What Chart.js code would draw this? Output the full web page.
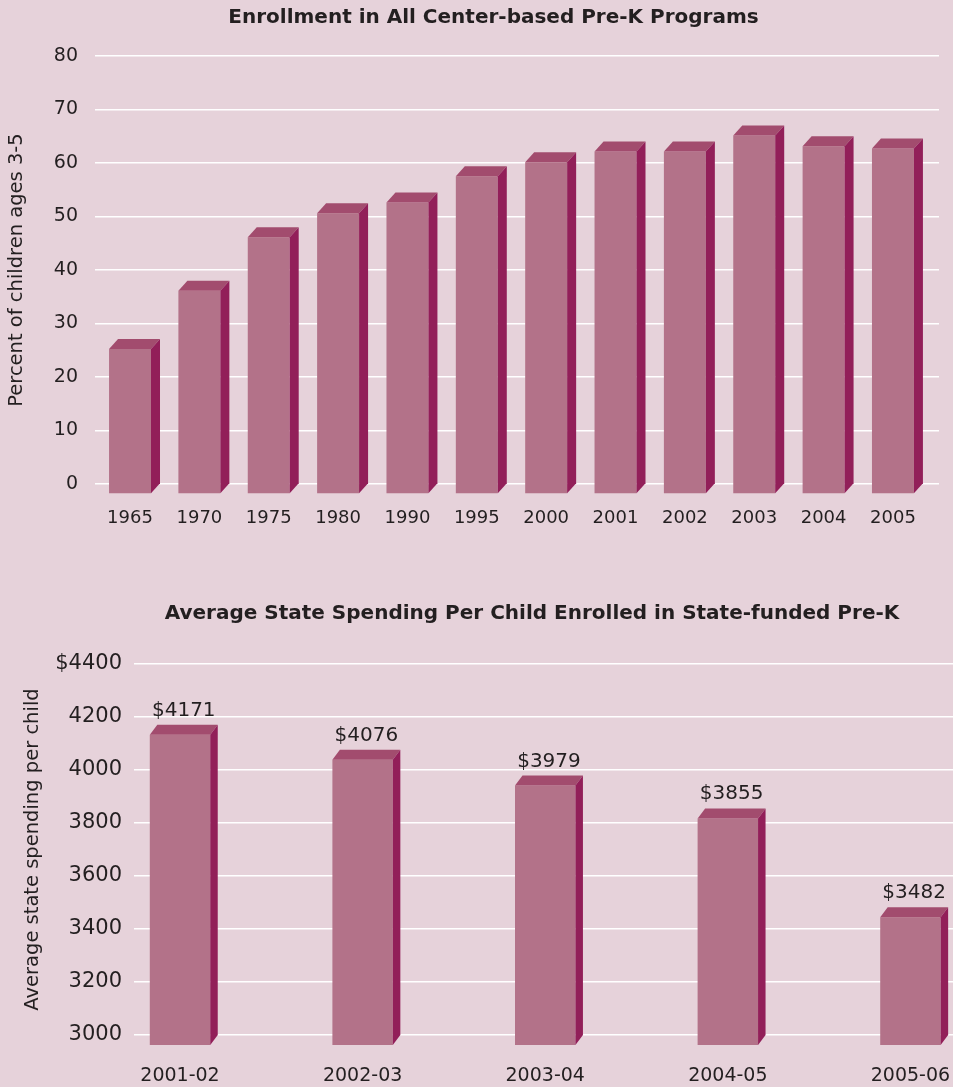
<!DOCTYPE html>
<html lang="en">

<head>
    <meta charset="UTF-8">
    <title>Pre-K enrollment and spending</title>
    <script src="https://cdn.jsdelivr.net/npm/chart.js@4.4.1/dist/chart.umd.min.js"></script>
    <style>
        html, body { margin: 0; padding: 0; background: #e6d2da; overflow: hidden; }
        #page { position: relative; width: 953px; height: 1087px; overflow: hidden; }
        canvas { position: absolute; left: 0; }
        #enrollment { top: 0; }
        #spending { top: 580px; }
    </style>
</head>

<body>
    <div id="page">
        <canvas id="enrollment" width="987" height="545"></canvas>
        <canvas id="spending" width="1064" height="507"></canvas>
    </div>
</body>

<script>
    // chart data
    const enrollmentYears = ["1965", "1970", "1975", "1980", "1990", "1995", "2000", "2001", "2002", "2003", "2004", "2005"];
    const enrollmentValues = [27.1, 38.0, 48.0, 52.5, 54.5, 59.4, 62.0, 64.0, 64.0, 67.0, 65.0, 64.6];
    const enrollmentTicks = ["0", "10", "20", "30", "40", "50", "60", "70", "80"];

    const spendingYears = ["2001-02", "2002-03", "2003-04", "2004-05", "2005-06"];
    const spendingValues = [4171, 4076, 3979, 3855, 3482];
    const spendingTicks = ["3000", "3200", "3400", "3600", "3800", "4000", "4200", "$4400"];

    const FRONT = "#b37289";
    const TOP = "#a24c6e";
    const SIDE = "#921f59";
    const TEXT = "#231f20";
    const FONT = "'DejaVu Sans', sans-serif";

    Chart.defaults.font.family = FONT;
    Chart.defaults.color = TEXT;

    function fillShape(ctx, color, points) {
        ctx.fillStyle = color;
        ctx.beginPath();
        ctx.moveTo(points[0][0], points[0][1]);
        for (let i = 1; i < points.length; i++) {
            ctx.lineTo(points[i][0], points[i][1]);
        }
        ctx.closePath();
        ctx.fill();
    }

    // draws each bar as a box: back face sits at the value, front face is pushed down-left
    function boxBars(depthX, depthY, withLabels) {
        return {
            id: "boxBars",
            afterDatasetsDraw(chart) {
                const ctx = chart.ctx;
                const floor = chart.chartArea.bottom;
                const values = chart.data.datasets[0].data;
                ctx.save();
                chart.getDatasetMeta(0).data.forEach((bar, i) => {
                    const half = bar.width / 2;
                    const left = bar.x - half;
                    const right = bar.x + half;
                    const top = bar.y;
                    const base = Math.min(bar.base, floor);

                    fillShape(ctx, FRONT, [[left, top + depthY], [right, top + depthY], [right, base + depthY], [left, base + depthY]]);
                    fillShape(ctx, TOP, [[left, top + depthY], [left + depthX, top], [right + depthX, top], [right, top + depthY]]);
                    fillShape(ctx, SIDE, [[right, top + depthY], [right + depthX, top], [right + depthX, base], [right, base + depthY]]);

                    if (withLabels) {
                        const v = values[i].y;
                        ctx.fillStyle = TEXT;
                        ctx.font = "20px " + FONT;
                        ctx.textAlign = "center";
                        ctx.textBaseline = "alphabetic";
                        ctx.fillText("$" + v, bar.x + depthX / 2, top - 9);
                    }
                });
                ctx.restore();
            }
        };
    }

    function indexTicks(labels) {
        return function (scale) {
            scale.ticks = labels.map((_, i) => ({ value: i }));
        };
    }

    // top chart
    new Chart(document.getElementById("enrollment"), {
        type: "bar",
        data: {
            datasets: [{
                data: enrollmentValues.map((v, i) => ({ x: i, y: v })),
                backgroundColor: "rgba(0,0,0,0)",
                categoryPercentage: 0.605,
                barPercentage: 1
            }]
        },
        options: {
            responsive: false,
            animation: false,
            layout: { padding: 0 },
            plugins: {
                legend: { display: false },
                tooltip: { enabled: false },
                title: {
                    display: true,
                    text: "Enrollment in All Center-based Pre-K Programs",
                    color: TEXT,
                    font: { size: 20, weight: "bold" },
                    padding: { top: 6, bottom: 26 }
                }
            },
            scales: {
                x: {
                    type: "linear",
                    min: -0.505,
                    max: 11.664,
                    offset: false,
                    afterBuildTicks: indexTicks(enrollmentYears),
                    grid: { display: false, drawTicks: false },
                    border: { display: false },
                    ticks: {
                        font: { size: 18 },
                        padding: 24,
                        maxRotation: 0,
                        autoSkip: false,
                        callback: (v) => enrollmentYears[v]
                    },
                    afterFit: (s) => { s.height = 61; }
                },
                y: {
                    min: 0,
                    max: 80,
                    beginAtZero: false,
                    ticks: {
                        stepSize: 10,
                        font: { size: 19 },
                        padding: 17,
                        callback: (v, i) => enrollmentTicks[i]
                    },
                    grid: { color: "#ffffff", lineWidth: 1.6, drawTicks: false },
                    border: { display: false },
                    title: {
                        display: true,
                        text: "Percent of children ages 3-5",
                        font: { size: 19.5 },
                        padding: { top: 5.3, bottom: 0 }
                    },
                    afterFit: (s) => { s.width = 95; }
                },
                edge: {
                    type: "linear",
                    position: "right",
                    grid: { display: false },
                    border: { display: false },
                    ticks: { display: false },
                    afterFit: (s) => { s.width = 48; }
                }
            }
        },
        plugins: [boxBars(9, 10, false)]
    });

    // bottom chart
    new Chart(document.getElementById("spending"), {
        type: "bar",
        data: {
            datasets: [{
                data: spendingValues.map((v, i) => ({ x: i, y: v })),
                backgroundColor: "rgba(0,0,0,0)",
                categoryPercentage: 0.331,
                barPercentage: 1
            }]
        },
        options: {
            responsive: false,
            animation: false,
            layout: { padding: 0 },
            plugins: {
                legend: { display: false },
                tooltip: { enabled: false },
                title: {
                    display: true,
                    text: "Average State Spending Per Child Enrolled in State-funded Pre-K",
                    color: TEXT,
                    font: { size: 20, weight: "bold" },
                    padding: { top: 22, bottom: 38 }
                }
            },
            scales: {
                x: {
                    type: "linear",
                    min: -0.252,
                    max: 4.841,
                    offset: false,
                    afterBuildTicks: indexTicks(spendingYears),
                    grid: { display: false, drawTicks: false },
                    border: { display: false },
                    ticks: {
                        font: { size: 19 },
                        padding: 30,
                        maxRotation: 0,
                        autoSkip: false,
                        callback: (v) => spendingYears[v]
                    },
                    afterFit: (s) => { s.height = 52; }
                },
                y: {
                    min: 3000,
                    max: 4400,
                    beginAtZero: false,
                    ticks: {
                        stepSize: 200,
                        font: { size: 21 },
                        padding: 12,
                        callback: (v, i) => spendingTicks[i]
                    },
                    grid: { color: "#ffffff", lineWidth: 1.6, drawTicks: false },
                    border: { display: false },
                    title: {
                        display: true,
                        text: "Average state spending per child",
                        font: { size: 19.5 },
                        padding: { top: 21.3, bottom: 0 }
                    },
                    afterFit: (s) => { s.width = 134; }
                }
            }
        },
        plugins: [boxBars(7.5, 10, true)]
    });
</script>

</html>
